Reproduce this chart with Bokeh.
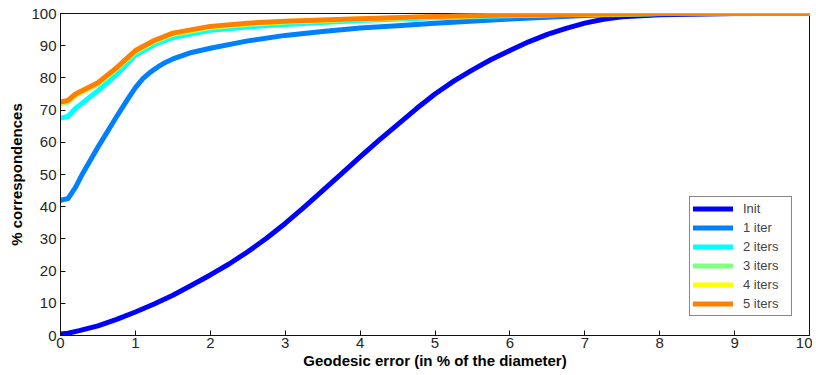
from bokeh.plotting import figure
from bokeh.models import Range1d, Legend, LegendItem, FixedTicker
from bokeh.embed import file_html
from bokeh.resources import INLINE

series_names = ["Init", "1 iter", "2 iters", "3 iters", "4 iters", "5 iters"]
series_colors = ["#0000FF", "#0080FF", "#00FFFF", "#80FF80", "#FFFF00", "#FF8000"]

init_x = [0, 0.1, 0.25, 0.5, 0.75, 1, 1.25, 1.5, 1.75, 2, 2.25, 2.5, 2.75, 3, 3.25, 3.5, 3.75, 4, 4.25, 4.5, 4.75, 5, 5.25, 5.5, 5.75, 6, 6.25, 6.5, 6.75, 7, 7.25, 7.5, 8, 9, 10]
init_y = [0.5, 0.7, 1.5, 3, 5, 7.3, 9.8, 12.5, 15.6, 18.8, 22.2, 26, 30.2, 34.8, 39.8, 45, 50.2, 55.5, 60.6, 65.5, 70.4, 75, 79, 82.5, 85.7, 88.5, 91.2, 93.5, 95.4, 97, 98.2, 99, 99.6, 100, 100]

iter1_x = [0, 0.1, 0.2, 0.3, 0.5, 0.75, 0.9, 1, 1.1, 1.2, 1.3, 1.4, 1.5, 1.75, 2, 2.5, 3, 3.5, 4, 4.5, 5, 6, 7, 8, 10]
iter1_y = [42, 42.5, 46, 50.5, 58.5, 68, 73.5, 77, 79.8, 81.8, 83.4, 84.8, 85.9, 87.9, 89.2, 91.5, 93.2, 94.4, 95.5, 96.2, 97, 98.3, 99.4, 99.9, 100]

iters_x = [0, 0.1, 0.2, 0.5, 0.75, 1, 1.25, 1.5, 2, 2.5, 3, 4, 5, 6, 7, 8, 10]
iter2_y = [67.5, 68, 70.5, 76, 81, 87, 90.3, 92.5, 94.8, 95.8, 96.6, 97.8, 98.7, 99.3, 99.8, 100, 100]
iter3_y = [72, 72.5, 74.5, 78, 82.8, 88, 91.2, 93.5, 95.6, 96.6, 97.3, 98.2, 99, 99.5, 99.8, 100, 100]
iter4_y = [72.3, 72.8, 74.8, 78.3, 83, 88.3, 91.4, 93.7, 95.8, 96.8, 97.5, 98.3, 99, 99.5, 99.8, 100, 100]
iter5_y = [72.5, 73, 75, 78.5, 83.2, 88.5, 91.6, 93.9, 96, 97, 97.6, 98.4, 99.1, 99.5, 99.8, 100, 100]

x_ticks = [0, 1, 2, 3, 4, 5, 6, 7, 8, 9, 10]
y_ticks = [0, 10, 20, 30, 40, 50, 60, 70, 80, 90, 100]

all_x = [init_x, iter1_x, iters_x, iters_x, iters_x, iters_x]
all_y = [init_y, iter1_y, iter2_y, iter3_y, iter4_y, iter5_y]

FONT = "Liberation Sans"

p = figure(width=812, height=371, output_backend="svg", toolbar_location=None,
           x_range=Range1d(0, 10), y_range=Range1d(0, 100),
           min_border_left=60, min_border_right=3, min_border_top=13, min_border_bottom=30)
p.background_fill_color = "white"
p.border_fill_color = "white"
p.outline_line_color = "#111111"
p.outline_line_width = 1
p.xgrid.visible = False
p.ygrid.visible = False

items = []
for name, color, xs, ys in zip(series_names, series_colors, all_x, all_y):
    r = p.line(xs, ys, line_color=color, line_width=5, line_join="round", line_cap="round")
    items.append(LegendItem(label=name, renderers=[r]))

for ax in (p.xaxis, p.yaxis):
    ax.major_tick_in = 5
    ax.major_tick_out = 0
    ax.minor_tick_in = 0
    ax.minor_tick_out = 0
    ax.axis_line_color = "#111111"
    ax.major_tick_line_color = "#111111"
    ax.major_label_text_font = FONT
    ax.major_label_text_font_size = "15px"
    ax.major_label_text_color = "#262626"
    ax.axis_label_text_font = FONT
    ax.axis_label_text_font_size = "15px"
    ax.axis_label_text_font_style = "bold"
    ax.axis_label_text_color = "black"

p.xaxis.ticker = FixedTicker(ticks=x_ticks)
p.yaxis.ticker = FixedTicker(ticks=y_ticks)
p.xaxis.axis_label = "Geodesic error (in % of the diameter)"
p.yaxis.axis_label = "% correspondences"
p.xaxis.major_label_standoff = 2
p.xaxis.axis_label_standoff = 1
p.yaxis.major_label_standoff = 4
p.yaxis.axis_label_standoff = 3

legend = Legend(items=items, location=(629, 19))
legend.label_text_font = FONT
legend.label_text_font_size = "13px"
legend.glyph_width = 40
legend.glyph_height = 17
legend.label_height = 17
legend.label_width = 45
legend.spacing = 2
legend.padding = 3
legend.margin = 0
legend.label_standoff = 10
legend.border_line_color = "#111111"
legend.border_line_width = 1
legend.background_fill_alpha = 1
p.add_layout(legend, "center")

open("out.html", "w").write(file_html(p, INLINE))
